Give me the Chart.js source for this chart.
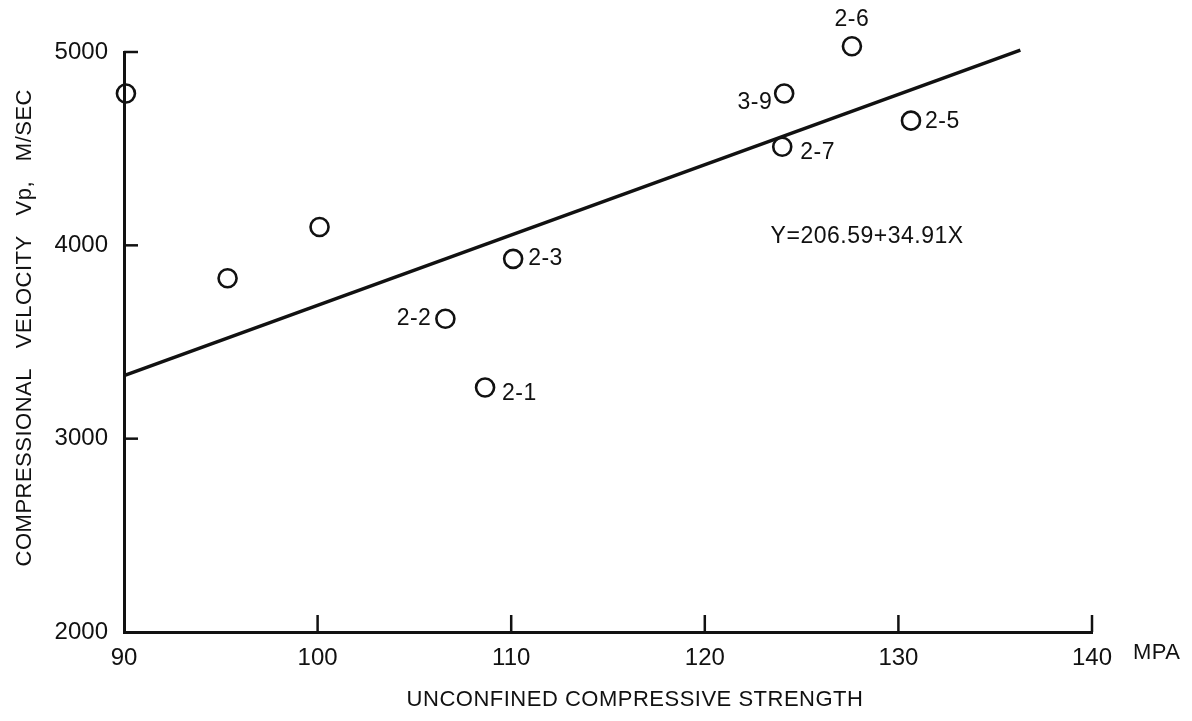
<!DOCTYPE html>
<html>
<head>
<meta charset="utf-8">
<script src="https://cdn.jsdelivr.net/npm/chart.js@4/dist/chart.umd.min.js"></script>
<style>
  body { margin: 0; background: #fff; }
  #wrap { width: 1192px; height: 721px; }
</style>
</head>
<body>
<div id="wrap"><canvas id="chart-vp"></canvas></div>
<script>
// samples: unconfined compressive strength (MPa) vs Vp (m/s)
const sampleNames = ['', '', '', '2-2', '2-1', '2-3', '2-7', '3-9', '2-6', '2-5'];
const strength    = [90.1, 95.35, 100.1, 106.6, 108.65, 110.1, 124.0, 124.1, 127.6, 130.65];
const velocity    = [4785, 3830, 4095, 3620, 3265, 3930, 4510, 4785, 5030, 4645];

// regression line as drawn
const fitX = [90, 136.3];
const fitY = [3326, 5010];

const xTicks = [90, 100, 110, 120, 130, 140];
const yTicks = [2000, 3000, 4000, 5000];
const equation = 'Y=206.59+34.91X';

const FONT = '"Liberation Sans", Arial, Helvetica, sans-serif';
const INK = '#111';

// where each sample name sits relative to its circle (px)
const labelPos = {
  '2-2': {dx: -14, dy: 0, align: 'right'},
  '2-1': {dx: 17, dy: 6, align: 'left'},
  '2-3': {dx: 15, dy: 0, align: 'left'},
  '2-7': {dx: 18, dy: 6, align: 'left'},
  '3-9': {dx: -12, dy: 9, align: 'right'},
  '2-6': {dx: 0, dy: -27, align: 'center'},
  '2-5': {dx: 14, dy: 1, align: 'left'}
};

const annotate = {
  id: 'annotate',
  afterDraw(chart) {
    const ctx = chart.ctx;
    const x = chart.scales.x, y = chart.scales.y;
    ctx.save();
    ctx.strokeStyle = INK;
    ctx.fillStyle = INK;
    ctx.lineWidth = 2.5;

    // inward tick marks
    xTicks.slice(1).forEach(v => {
      const px = x.getPixelForValue(v);
      ctx.beginPath(); ctx.moveTo(px, y.bottom); ctx.lineTo(px, y.bottom - 17); ctx.stroke();
    });
    yTicks.slice(1).forEach(v => {
      const py = y.getPixelForValue(v);
      ctx.beginPath(); ctx.moveTo(x.left, py); ctx.lineTo(x.left + 14, py); ctx.stroke();
    });

    ctx.letterSpacing = '0.5px';
    ctx.textBaseline = 'middle';

    // sample names
    ctx.font = '23px ' + FONT;
    sampleNames.forEach((name, i) => {
      if (!name) return;
      const p = labelPos[name];
      ctx.textAlign = p.align;
      ctx.fillText(name, x.getPixelForValue(strength[i]) + p.dx, y.getPixelForValue(velocity[i]) + p.dy);
    });

    // equation
    ctx.textAlign = 'left';
    ctx.fillText(equation, x.getPixelForValue(123.4), y.getPixelForValue(4043));

    // unit after the x axis
    ctx.font = '22px ' + FONT;
    ctx.fillText('MPA', x.right + 41, y.bottom + 21);

    // axis titles
    ctx.textAlign = 'center';
    ctx.fillText('UNCONFINED COMPRESSIVE STRENGTH', 635, 700);

    ctx.translate(25, 89);
    ctx.rotate(-Math.PI / 2);
    ctx.textAlign = 'right';
    ctx.fillText('COMPRESSIONAL   VELOCITY   Vp,   M/SEC', 0, 0);
    ctx.restore();
  }
};

Chart.defaults.font.family = FONT;
Chart.defaults.color = INK;

new Chart(document.getElementById('chart-vp'), {
  type: 'scatter',
  data: {
    datasets: [
      {
        type: 'line',
        label: 'fit',
        data: fitX.map((v, i) => ({x: v, y: fitY[i]})),
        borderColor: INK,
        borderWidth: 3.5,
        pointRadius: 0,
        fill: false,
        clip: false
      },
      {
        label: 'samples',
        data: strength.map((v, i) => ({x: v, y: velocity[i]})),
        pointRadius: 9,
        pointBorderWidth: 2.6,
        borderColor: INK,
        backgroundColor: 'rgba(0,0,0,0)',
        clip: false
      }
    ]
  },
  options: {
    responsive: true,
    maintainAspectRatio: false,
    animation: false,
    layout: { padding: { top: 52, right: 100, left: 0, bottom: 0 } },
    plugins: { legend: { display: false }, tooltip: { enabled: false } },
    scales: {
      x: {
        type: 'linear',
        min: 90, max: 140,
        afterFit: s => { s.height = 89; },
        afterBuildTicks: s => { s.ticks = xTicks.map(v => ({value: v})); },
        ticks: { font: { size: 24 }, padding: 4, color: INK, callback: v => String(v) },
        grid: { display: false },
        border: { display: true, color: INK, width: 3 }
      },
      y: {
        type: 'linear',
        min: 2000, max: 5000,
        afterFit: s => { s.width = 124; },
        afterBuildTicks: s => { s.ticks = yTicks.map(v => ({value: v})); },
        ticks: { font: { size: 24 }, padding: 8, color: INK, callback: v => String(v) },
        grid: { display: false },
        border: { display: true, color: INK, width: 3 }
      }
    }
  },
  plugins: [annotate]
});
</script>
</body>
</html>
